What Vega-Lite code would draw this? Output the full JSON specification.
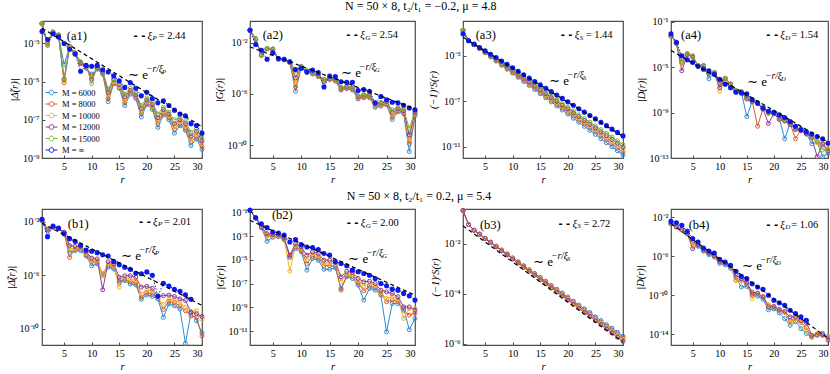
{
"$schema":"https://vega.github.io/schema/vega-lite/v6.json",
"padding":{"left":5,"top":0,"right":0,"bottom":0},
"background":"white",
"config":{
 "font":"Liberation Serif",
 "view":{"stroke":"#4d4d4d","strokeWidth":1.2},
 "axis":{"grid":false,"domain":false,"tickColor":"#4d4d4d","tickSize":-3,"tickWidth":1,"labelFont":"Liberation Serif","labelFontSize":10,"labelColor":"black","labelPadding":6,"titleFont":"Liberation Serif","titleFontSize":10.5,"titleFontWeight":"normal","titleFontStyle":"italic","titleColor":"black","titlePadding":3},
 "text":{"font":"Liberation Serif","color":"black"},
 "title":{"font":"Liberation Serif","fontSize":12,"fontWeight":"normal","color":"black","anchor":"middle"}
},
"datasets":{
"fit":[{"p":"a1","r":1,"v":6.3e-3},{"p":"a1","r":30,"v":4.4e-8},{"p":"a2","r":1,"v":4.6e-3},{"p":"a2","r":30,"v":6.8e-8},{"p":"a3","r":1,"v":4.5e-2},{"p":"a3","r":30,"v":7.9e-11},{"p":"a4","r":1,"v":3.0e-4},{"p":"a4","r":30,"v":2.5e-12},{"p":"b1","r":1,"v":7.9e-3},{"p":"b1","r":30,"v":5.6e-9},{"p":"b2","r":1,"v":2.1e-2},{"p":"b2","r":30,"v":1.07e-8},{"p":"b3","r":1,"v":5.1e-2},{"p":"b3","r":30,"v":1.17e-6},{"p":"b4","r":1,"v":2.1e-3},{"p":"b4","r":30,"v":4.0e-15}],
"notes":[
{"p":"a1","k":"lab","r":5.5,"v":2.5e-3,"t":"(a1)"},{"p":"a1","k":"fit","r":16.6,"v":2.1e-5,"t":"P"},{"p":"a1","k":"xi","r":17.6,"v":2.6e-3,"t":"P","n":"= 2.44"},
{"p":"a2","k":"lab","r":3.23,"v":3.7e-2,"t":"(a2)"},{"p":"a2","k":"fit","r":17.0,"v":4.0e-5,"t":"G"},{"p":"a2","k":"xi","r":17.9,"v":3.7e-2,"t":"G","n":"= 2.54"},
{"p":"a3","k":"lab","r":3.3,"v":6.6e-2,"t":"(a3)"},{"p":"a3","k":"fit","r":16.6,"v":6.3e-6,"t":"S"},{"p":"a3","k":"xi","r":18.7,"v":6.6e-2,"t":"S","n":"= 1.44"},
{"p":"a4","k":"lab","r":2.85,"v":6.5e-3,"t":"(a4)"},{"p":"a4","k":"fit","r":15.05,"v":5.4e-7,"t":"D"},{"p":"a4","k":"xi","r":18.6,"v":6.5e-3,"t":"D","n":"= 1.54"},
{"p":"b1","k":"lab","r":5.68,"v":7.4e-3,"t":"(b1)"},{"p":"b1","k":"fit","r":15.3,"v":2.8e-5,"t":"P"},{"p":"b1","k":"xi","r":18.6,"v":1e-2,"t":"P","n":"= 2.01"},
{"p":"b2","k":"lab","r":4.85,"v":5.6e-2,"t":"(b2)"},{"p":"b2","k":"fit","r":18.25,"v":1.1e-5,"t":"G"},{"p":"b2","k":"xi","r":18.0,"v":1.26e-2,"t":"G","n":"= 2.00"},
{"p":"b3","k":"lab","r":4.06,"v":5.7e-2,"t":"(b3)"},{"p":"b3","k":"fit","r":13.7,"v":1.9e-3,"t":"S"},{"p":"b3","k":"xi","r":18.3,"v":6.3e-2,"t":"S","n":"= 2.72"},
{"p":"b4","k":"lab","r":4.27,"v":1.6e-3,"t":"(b4)"},{"p":"b4","k":"fit","r":14.1,"v":9.8e-8,"t":"D"},{"p":"b4","k":"xi","r":18.6,"v":1.6e-3,"t":"D","n":"= 1.06"}
],
"pts":[
{"p":"a1","r":1,"m6":1.1e-2,"m8":1.1e-2,"m10":1.1e-2,"m12":1.1e-2,"m15":1.1e-2,"mi":4.3e-3},
{"p":"a1","r":2,"m6":7.9e-4,"m8":8.9e-4,"m10":8.9e-4,"m12":1e-3,"m15":1e-3,"mi":1.6e-3},
{"p":"a1","r":3,"m6":3.5e-3,"m8":3.5e-3,"m10":3.5e-3,"m12":4.0e-3,"m15":4.0e-3,"mi":3.2e-3},
{"p":"a1","r":4,"m6":2.5e-3,"m8":2.5e-3,"m10":2.5e-3,"m12":2.8e-3,"m15":2.8e-3,"mi":2.2e-3},
{"p":"a1","r":5,"m6":7.9e-5,"m8":8.9e-6,"m10":1.1e-5,"m12":1.3e-5,"m15":1.4e-5,"mi":1e-3},
{"p":"a1","r":6,"m6":6.3e-4,"m8":6.3e-4,"m10":6.3e-4,"m12":7.1e-4,"m15":7.1e-4,"mi":5.0e-4},
{"p":"a1","r":7,"m6":2.8e-4,"m8":2.8e-4,"m10":3.2e-4,"m12":3.2e-4,"m15":3.2e-4,"mi":2.8e-4},
{"p":"a1","r":8,"m6":8.9e-5,"m8":8.9e-5,"m10":1e-4,"m12":1e-4,"m15":1.1e-4,"mi":3.5e-5},
{"p":"a1","r":9,"m6":5.0e-5,"m8":5.6e-5,"m10":6.3e-5,"m12":6.3e-5,"m15":7.1e-5,"mi":7.1e-5},
{"p":"a1","r":10,"m6":2.5e-5,"m8":2.0e-5,"m10":1.6e-5,"m12":1.3e-5,"m15":7.9e-6,"mi":6.3e-5},
{"p":"a1","r":11,"m6":4.5e-5,"m8":5.0e-5,"m10":5.6e-5,"m12":5.6e-5,"m15":6.3e-5,"mi":7.1e-5},
{"p":"a1","r":12,"m6":2.5e-5,"m8":2.8e-5,"m10":3.2e-5,"m12":3.2e-5,"m15":3.5e-5,"mi":4.2e-5},
{"p":"a1","r":13,"m6":8.9e-7,"m8":1.3e-6,"m10":2.0e-6,"m12":2.8e-6,"m15":4.0e-6,"mi":3.2e-5},
{"p":"a1","r":14,"m6":7.9e-6,"m8":8.9e-6,"m10":1e-5,"m12":1.3e-5,"m15":1.4e-5,"mi":2.0e-5},
{"p":"a1","r":15,"m6":4.5e-6,"m8":5.0e-6,"m10":5.6e-6,"m12":7.1e-6,"m15":7.9e-6,"mi":1.1e-5},
{"p":"a1","r":16,"m6":5.6e-7,"m8":7.9e-7,"m10":1.1e-6,"m12":1.6e-6,"m15":2.2e-6,"mi":5.0e-6},
{"p":"a1","r":17,"m6":2.2e-6,"m8":2.8e-6,"m10":3.2e-6,"m12":3.5e-6,"m15":4.5e-6,"mi":8.9e-6},
{"p":"a1","r":18,"m6":1.3e-6,"m8":1.6e-6,"m10":1.8e-6,"m12":2.0e-6,"m15":2.5e-6,"mi":4.5e-6},
{"p":"a1","r":19,"m6":1.4e-7,"m8":2.0e-7,"m10":2.8e-7,"m12":4.0e-7,"m15":5.6e-7,"mi":1.8e-6},
{"p":"a1","r":20,"m6":6.3e-7,"m8":7.9e-7,"m10":8.9e-7,"m12":1.1e-6,"m15":1.4e-6,"mi":2.8e-6},
{"p":"a1","r":21,"m6":3.5e-7,"m8":4.5e-7,"m10":5.0e-7,"m12":6.3e-7,"m15":7.9e-7,"mi":1.3e-6},
{"p":"a1","r":22,"m6":4.0e-8,"m8":6.3e-8,"m10":8.9e-8,"m12":1.3e-7,"m15":2.0e-7,"mi":7.9e-7},
{"p":"a1","r":23,"m6":1.8e-7,"m8":2.2e-7,"m10":2.8e-7,"m12":3.5e-7,"m15":4.5e-7,"mi":1e-6},
{"p":"a1","r":24,"m6":1e-7,"m8":1.3e-7,"m10":1.6e-7,"m12":2.0e-7,"m15":2.5e-7,"mi":5.6e-7},
{"p":"a1","r":25,"m6":2.0e-8,"m8":3.2e-8,"m10":4.5e-8,"m12":6.3e-8,"m15":1e-7,"mi":3.2e-7},
{"p":"a1","r":26,"m6":5.0e-8,"m8":6.3e-8,"m10":7.9e-8,"m12":1e-7,"m15":1.3e-7,"mi":2.0e-7},
{"p":"a1","r":27,"m6":2.8e-8,"m8":3.5e-8,"m10":4.5e-8,"m12":6.3e-8,"m15":7.9e-8,"mi":1.6e-7},
{"p":"a1","r":28,"m6":4.5e-9,"m8":7.1e-9,"m10":1e-8,"m12":1.4e-8,"m15":2.2e-8,"mi":6.3e-8},
{"p":"a1","r":29,"m6":1e-8,"m8":1.3e-8,"m10":1.8e-8,"m12":2.5e-8,"m15":3.2e-8,"mi":5.0e-8},
{"p":"a1","r":30,"m6":2.8e-9,"m8":4.0e-9,"m10":5.6e-9,"m12":7.9e-9,"m15":1.1e-8,"mi":2.0e-8},
{"p":"a2","r":1,"m6":9.1e-2,"m8":9.3e-2,"m10":9.5e-2,"m12":9.8e-2,"m15":1e-1,"mi":9.1e-2},
{"p":"a2","r":2,"m6":1.8e-2,"m8":1.8e-2,"m10":1.9e-2,"m12":1.9e-2,"m15":2.0e-2,"mi":7.1e-3},
{"p":"a2","r":3,"m6":1e-3,"m8":1e-3,"m10":1.1e-3,"m12":1.1e-3,"m15":1.1e-3,"mi":2.5e-3},
{"p":"a2","r":4,"m6":3.2e-3,"m8":3.3e-3,"m10":3.4e-3,"m12":3.4e-3,"m15":3.5e-3,"mi":5.0e-4},
{"p":"a2","r":5,"m6":2.8e-3,"m8":2.9e-3,"m10":3.0e-3,"m12":3.1e-3,"m15":3.2e-3,"mi":1.6e-3},
{"p":"a2","r":6,"m6":5.0e-4,"m8":5.2e-4,"m10":5.3e-4,"m12":5.5e-4,"m15":5.6e-4,"mi":5.6e-4},
{"p":"a2","r":7,"m6":4.5e-4,"m8":4.6e-4,"m10":4.7e-4,"m12":4.9e-4,"m15":5.0e-4,"mi":5.0e-4},
{"p":"a2","r":8,"m6":2.8e-4,"m8":2.9e-4,"m10":3.0e-4,"m12":3.1e-4,"m15":3.2e-4,"mi":3.2e-4},
{"p":"a2","r":9,"m6":1.6e-6,"m8":3.5e-6,"m10":7.9e-6,"m12":1.8e-5,"m15":4.0e-5,"mi":7.9e-5},
{"p":"a2","r":10,"m6":1.1e-4,"m8":1.2e-4,"m10":1.3e-4,"m12":1.3e-4,"m15":1.4e-4,"mi":1e-4},
{"p":"a2","r":11,"m6":5.0e-5,"m8":5.3e-5,"m10":5.6e-5,"m12":5.9e-5,"m15":6.3e-5,"mi":5.0e-5},
{"p":"a2","r":12,"m6":3.5e-5,"m8":3.8e-5,"m10":4.0e-5,"m12":4.2e-5,"m15":4.5e-5,"mi":7.1e-5},
{"p":"a2","r":13,"m6":2.2e-5,"m8":2.4e-5,"m10":2.5e-5,"m12":2.7e-5,"m15":2.8e-5,"mi":4.5e-5},
{"p":"a2","r":14,"m6":8.9e-6,"m8":1e-5,"m10":1.1e-5,"m12":1.3e-5,"m15":1.4e-5,"mi":3.5e-6},
{"p":"a2","r":15,"m6":1.3e-5,"m8":1.4e-5,"m10":1.5e-5,"m12":1.6e-5,"m15":1.8e-5,"mi":2.5e-5},
{"p":"a2","r":16,"m6":1e-5,"m8":1.1e-5,"m10":1.2e-5,"m12":1.3e-5,"m15":1.4e-5,"mi":2.2e-5},
{"p":"a2","r":17,"m6":2.0e-6,"m8":2.2e-6,"m10":2.5e-6,"m12":2.8e-6,"m15":3.2e-6,"mi":8.9e-6},
{"p":"a2","r":18,"m6":2.5e-6,"m8":2.8e-6,"m10":3.2e-6,"m12":3.5e-6,"m15":4.0e-6,"mi":7.9e-6},
{"p":"a2","r":19,"m6":2.0e-6,"m8":2.2e-6,"m10":2.5e-6,"m12":2.8e-6,"m15":3.2e-6,"mi":7.9e-6},
{"p":"a2","r":20,"m6":4.0e-7,"m8":4.6e-7,"m10":5.3e-7,"m12":6.1e-7,"m15":7.1e-7,"mi":1.8e-6},
{"p":"a2","r":21,"m6":5.0e-7,"m8":5.8e-7,"m10":6.7e-7,"m12":7.7e-7,"m15":8.9e-7,"mi":2.2e-6},
{"p":"a2","r":22,"m6":5.0e-7,"m8":5.8e-7,"m10":6.7e-7,"m12":7.7e-7,"m15":8.9e-7,"mi":1.6e-6},
{"p":"a2","r":23,"m6":8.9e-8,"m8":1.1e-7,"m10":1.3e-7,"m12":1.6e-7,"m15":2.0e-7,"mi":2.0e-7},
{"p":"a2","r":24,"m6":1.1e-7,"m8":1.3e-7,"m10":1.6e-7,"m12":1.9e-7,"m15":2.2e-7,"mi":6.3e-7},
{"p":"a2","r":25,"m6":1.4e-7,"m8":1.7e-7,"m10":2.0e-7,"m12":2.4e-7,"m15":2.8e-7,"mi":3.5e-7},
{"p":"a2","r":26,"m6":1e-8,"m8":1.5e-8,"m10":2.4e-8,"m12":3.6e-8,"m15":5.6e-8,"mi":2.2e-7},
{"p":"a2","r":27,"m6":4.0e-8,"m8":4.8e-8,"m10":5.6e-8,"m12":6.7e-8,"m15":8.9e-8,"mi":2.0e-7},
{"p":"a2","r":28,"m6":2.8e-8,"m8":3.4e-8,"m10":4.0e-8,"m12":4.7e-8,"m15":6.3e-8,"mi":1.3e-7},
{"p":"a2","r":29,"m6":3.2e-11,"m8":1.3e-10,"m10":3.2e-10,"m12":6.3e-10,"m15":2.0e-9,"mi":7.9e-8},
{"p":"a2","r":30,"m6":2.0e-8,"m8":2.4e-8,"m10":2.8e-8,"m12":3.4e-8,"m15":4.5e-8,"mi":5.6e-8},
{"p":"a3","r":1,"m6":1.8e-1,"m8":1.8e-1,"m10":1.8e-1,"m12":1.8e-1,"m15":1.8e-1,"mi":9.1e-2},
{"p":"a3","r":2,"m6":2.3e-2,"m8":2.3e-2,"m10":2.3e-2,"m12":2.3e-2,"m15":2.3e-2,"mi":2.2e-2},
{"p":"a3","r":3,"m6":9.8e-3,"m8":1e-2,"m10":1.0e-2,"m12":1.0e-2,"m15":1.05e-2,"mi":1.1e-2},
{"p":"a3","r":4,"m6":4.3e-3,"m8":4.5e-3,"m10":4.7e-3,"m12":4.8e-3,"m15":5.0e-3,"mi":5.6e-3},
{"p":"a3","r":5,"m6":1.9e-3,"m8":2.0e-3,"m10":2.1e-3,"m12":2.2e-3,"m15":2.3e-3,"mi":2.8e-3},
{"p":"a3","r":6,"m6":8.1e-4,"m8":8.9e-4,"m10":9.5e-4,"m12":1.0e-3,"m15":1.1e-3,"mi":1.4e-3},
{"p":"a3","r":7,"m6":3.5e-4,"m8":4.0e-4,"m10":4.4e-4,"m12":4.7e-4,"m15":5.1e-4,"mi":7.1e-4},
{"p":"a3","r":8,"m6":1.5e-4,"m8":1.8e-4,"m10":2.0e-4,"m12":2.2e-4,"m15":2.5e-4,"mi":3.5e-4},
{"p":"a3","r":9,"m6":6.8e-5,"m8":7.9e-5,"m10":9.1e-5,"m12":1.0e-4,"m15":1.15e-4,"mi":1.8e-4},
{"p":"a3","r":10,"m6":3.0e-5,"m8":3.5e-5,"m10":4.1e-5,"m12":4.7e-5,"m15":5.4e-5,"mi":8.9e-5},
{"p":"a3","r":11,"m6":1.3e-5,"m8":1.6e-5,"m10":1.9e-5,"m12":2.1e-5,"m15":2.6e-5,"mi":4.5e-5},
{"p":"a3","r":12,"m6":5.6e-6,"m8":7.1e-6,"m10":8.5e-6,"m12":1.0e-5,"m15":1.2e-5,"mi":2.2e-5},
{"p":"a3","r":13,"m6":2.5e-6,"m8":3.2e-6,"m10":3.9e-6,"m12":4.6e-6,"m15":5.6e-6,"mi":1.1e-5},
{"p":"a3","r":14,"m6":1.1e-6,"m8":1.4e-6,"m10":1.8e-6,"m12":2.1e-6,"m15":2.7e-6,"mi":5.6e-6},
{"p":"a3","r":15,"m6":4.7e-7,"m8":6.3e-7,"m10":7.9e-7,"m12":9.8e-7,"m15":1.3e-6,"mi":2.8e-6},
{"p":"a3","r":16,"m6":2.0e-7,"m8":2.8e-7,"m10":3.6e-7,"m12":4.6e-7,"m15":5.9e-7,"mi":1.4e-6},
{"p":"a3","r":17,"m6":8.9e-8,"m8":1.3e-7,"m10":1.7e-7,"m12":2.1e-7,"m15":2.8e-7,"mi":7.1e-7},
{"p":"a3","r":18,"m6":3.9e-8,"m8":5.6e-8,"m10":7.6e-8,"m12":9.8e-8,"m15":1.3e-7,"mi":3.5e-7},
{"p":"a3","r":19,"m6":1.7e-8,"m8":2.5e-8,"m10":3.5e-8,"m12":4.5e-8,"m15":6.2e-8,"mi":1.8e-7},
{"p":"a3","r":20,"m6":7.4e-9,"m8":1.1e-8,"m10":1.5e-8,"m12":2.1e-8,"m15":2.9e-8,"mi":8.9e-8},
{"p":"a3","r":21,"m6":3.2e-9,"m8":5.0e-9,"m10":7.1e-9,"m12":9.5e-9,"m15":1.4e-8,"mi":4.5e-8},
{"p":"a3","r":22,"m6":1.4e-9,"m8":2.2e-9,"m10":3.2e-9,"m12":4.5e-9,"m15":6.5e-9,"mi":2.2e-8},
{"p":"a3","r":23,"m6":6.2e-10,"m8":1.0e-9,"m10":1.5e-9,"m12":2.0e-9,"m15":3.0e-9,"mi":1.1e-8},
{"p":"a3","r":24,"m6":2.7e-10,"m8":4.5e-10,"m10":6.8e-10,"m12":9.5e-10,"m15":1.45e-9,"mi":5.6e-9},
{"p":"a3","r":25,"m6":1.2e-10,"m8":2.0e-10,"m10":3.0e-10,"m12":4.4e-10,"m15":6.8e-10,"mi":2.8e-9},
{"p":"a3","r":26,"m6":5.1e-11,"m8":8.9e-11,"m10":1.4e-10,"m12":2.0e-10,"m15":3.2e-10,"mi":1.4e-9},
{"p":"a3","r":27,"m6":2.2e-11,"m8":4.0e-11,"m10":6.3e-11,"m12":9.3e-11,"m15":1.5e-10,"mi":7.1e-10},
{"p":"a3","r":28,"m6":9.8e-12,"m8":1.8e-11,"m10":2.9e-11,"m12":4.4e-11,"m15":7.1e-11,"mi":3.5e-10},
{"p":"a3","r":29,"m6":4.3e-12,"m8":7.9e-12,"m10":1.3e-11,"m12":2.0e-11,"m15":3.3e-11,"mi":1.8e-10},
{"p":"a3","r":30,"m6":1.9e-12,"m8":3.5e-12,"m10":5.9e-12,"m12":9.3e-12,"m15":1.5e-11,"mi":8.9e-11},
{"p":"a4","r":1,"m6":5.6e-3,"m8":5.6e-3,"m10":5.6e-3,"m12":5.6e-3,"m15":5.6e-3,"mi":9.1e-3},
{"p":"a4","r":2,"m6":1.3e-3,"m8":1.3e-3,"m10":1.3e-3,"m12":1.3e-3,"m15":1.3e-3,"mi":1.6e-3},
{"p":"a4","r":3,"m6":2.5e-5,"m8":2.5e-5,"m10":2.2e-5,"m12":5.0e-6,"m15":3.2e-5,"mi":1.05e-4},
{"p":"a4","r":4,"m6":1.4e-4,"m8":1.6e-4,"m10":1.4e-4,"m12":1.3e-4,"m15":1.6e-4,"mi":4.6e-5},
{"p":"a4","r":5,"m6":8.9e-5,"m8":1e-4,"m10":8.9e-5,"m12":7.9e-5,"m15":1e-4,"mi":2.7e-5},
{"p":"a4","r":6,"m6":1.3e-5,"m8":1.4e-5,"m10":1.3e-5,"m12":1.3e-5,"m15":1.4e-5,"mi":1.2e-5},
{"p":"a4","r":7,"m6":1.3e-5,"m8":1.4e-5,"m10":1.3e-5,"m12":1.3e-5,"m15":1.4e-5,"mi":6.8e-6},
{"p":"a4","r":8,"m6":1e-6,"m8":3.2e-6,"m10":3.2e-6,"m12":2.8e-6,"m15":3.5e-6,"mi":4.8e-6},
{"p":"a4","r":9,"m6":3.2e-6,"m8":3.5e-6,"m10":3.2e-6,"m12":3.2e-6,"m15":3.5e-6,"mi":2.4e-6},
{"p":"a4","r":10,"m6":4.0e-7,"m8":4.5e-7,"m10":7.9e-8,"m12":1.6e-7,"m15":5.0e-7,"mi":8.7e-7},
{"p":"a4","r":11,"m6":1e-6,"m8":1e-6,"m10":8.9e-7,"m12":1e-6,"m15":1.1e-6,"mi":3.2e-7},
{"p":"a4","r":12,"m6":3.2e-7,"m8":3.2e-7,"m10":2.8e-7,"m12":3.2e-7,"m15":3.5e-7,"mi":1.6e-7},
{"p":"a4","r":13,"m6":7.9e-8,"m8":8.9e-8,"m10":7.9e-8,"m12":7.1e-8,"m15":8.9e-8,"mi":6.3e-8},
{"p":"a4","r":14,"m6":6.3e-8,"m8":7.1e-8,"m10":6.3e-8,"m12":5.6e-8,"m15":7.1e-8,"mi":5.5e-8},
{"p":"a4","r":15,"m6":4.5e-10,"m8":2.0e-8,"m10":1.8e-8,"m12":1.6e-8,"m15":2.2e-8,"mi":4.5e-8},
{"p":"a4","r":16,"m6":1e-8,"m8":1.1e-8,"m10":1e-8,"m12":8.9e-9,"m15":1.1e-8,"mi":1.4e-8},
{"p":"a4","r":17,"m6":6.3e-9,"m8":6.3e-11,"m10":7.1e-9,"m12":6.3e-9,"m15":7.9e-9,"mi":7.1e-9},
{"p":"a4","r":18,"m6":2.5e-9,"m8":2.5e-9,"m10":2.2e-9,"m12":2.0e-9,"m15":2.8e-9,"mi":2.5e-9},
{"p":"a4","r":19,"m6":1e-9,"m8":8.9e-10,"m10":7.9e-10,"m12":1.1e-10,"m15":1e-9,"mi":1.3e-9},
{"p":"a4","r":20,"m6":1e-9,"m8":1e-9,"m10":8.9e-10,"m12":7.9e-10,"m15":1.1e-9,"mi":1.05e-9},
{"p":"a4","r":21,"m6":3.2e-10,"m8":3.2e-10,"m10":2.8e-10,"m12":2.5e-10,"m15":3.5e-10,"mi":6.3e-10},
{"p":"a4","r":22,"m6":5.0e-12,"m8":2.2e-10,"m10":2.0e-10,"m12":1.8e-10,"m15":2.5e-10,"mi":3.7e-10},
{"p":"a4","r":23,"m6":1.1e-10,"m8":1.1e-10,"m10":1e-10,"m12":8.9e-11,"m15":1.3e-10,"mi":1.6e-10},
{"p":"a4","r":24,"m6":4.0e-11,"m8":5.0e-12,"m10":3.5e-11,"m12":3.2e-11,"m15":4.5e-11,"mi":6.3e-11},
{"p":"a4","r":25,"m6":3.2e-11,"m8":3.2e-11,"m10":2.8e-11,"m12":2.5e-11,"m15":3.5e-11,"mi":3.2e-11},
{"p":"a4","r":26,"m6":1.4e-11,"m8":1.6e-11,"m10":1.4e-11,"m12":1.3e-11,"m15":1.8e-11,"mi":2.0e-11},
{"p":"a4","r":27,"m6":1.8e-12,"m8":7.9e-12,"m10":7.1e-12,"m12":6.3e-12,"m15":8.9e-12,"mi":1.3e-11},
{"p":"a4","r":28,"m6":2.5e-12,"m8":2.5e-12,"m10":2.2e-12,"m12":1.3e-13,"m15":2.8e-12,"mi":7.9e-12},
{"p":"a4","r":29,"m6":1.3e-13,"m8":2.0e-12,"m10":1.8e-12,"m12":1.6e-12,"m15":5.0e-13,"mi":5.0e-12},
{"p":"a4","r":30,"m6":2.5e-13,"m8":5.0e-13,"m10":5.0e-13,"m12":4.0e-13,"m15":6.3e-13,"mi":2.0e-12},
{"p":"b1","r":1,"m6":1.3e-2,"m8":1.3e-2,"m10":1.3e-2,"m12":1.3e-2,"mi":1.6e-2},
{"p":"b1","r":2,"m6":2.2e-3,"m8":2.5e-3,"m10":2.5e-3,"m12":2.8e-3,"mi":7.9e-4},
{"p":"b1","r":3,"m6":3.8e-3,"m8":4.0e-3,"m10":4.0e-3,"m12":4.2e-3,"mi":5.0e-3},
{"p":"b1","r":4,"m6":3.2e-3,"m8":3.2e-3,"m10":3.2e-3,"m12":3.2e-3,"mi":3.5e-3},
{"p":"b1","r":5,"m6":1.4e-3,"m8":1.6e-3,"m10":1.6e-3,"m12":1.7e-3,"mi":1.3e-3},
{"p":"b1","r":6,"m6":5.6e-5,"m8":2.2e-5,"m10":1e-4,"m12":1.7e-4,"mi":5.6e-4},
{"p":"b1","r":7,"m6":7.1e-5,"m8":8.9e-5,"m10":1.05e-4,"m12":1.5e-4,"mi":3.5e-4},
{"p":"b1","r":8,"m6":7.1e-5,"m8":8.9e-5,"m10":1.05e-4,"m12":1.4e-4,"mi":1.8e-4},
{"p":"b1","r":9,"m6":2.8e-5,"m8":3.5e-5,"m10":4.5e-5,"m12":6.0e-5,"mi":7.9e-5},
{"p":"b1","r":10,"m6":5.2e-6,"m8":1e-5,"m10":1.3e-5,"m12":1.9e-5,"mi":6.3e-5},
{"p":"b1","r":11,"m6":7.1e-6,"m8":1e-5,"m10":1.3e-5,"m12":1.7e-5,"mi":5.0e-5},
{"p":"b1","r":12,"m6":1.3e-6,"m8":1e-6,"m10":1.1e-6,"m12":8.3e-8,"mi":3.5e-5},
{"p":"b1","r":13,"m6":4.0e-6,"m8":5.6e-6,"m10":7.9e-6,"m12":1.05e-5,"mi":2.8e-5},
{"p":"b1","r":14,"m6":3.0e-6,"m8":4.0e-6,"m10":5.0e-6,"m12":7.1e-6,"mi":1.1e-5},
{"p":"b1","r":15,"m6":4.0e-7,"m8":2.8e-7,"m10":1.3e-7,"m12":7.1e-7,"mi":6.3e-6},
{"p":"b1","r":16,"m6":4.0e-7,"m8":5.0e-7,"m10":7.1e-7,"m12":9.3e-7,"mi":4.0e-6},
{"p":"b1","r":17,"m6":2.2e-7,"m8":3.2e-7,"m10":5.0e-7,"m12":9.3e-7,"mi":2.8e-6},
{"p":"b1","r":18,"m6":1.9e-7,"m8":2.8e-7,"m10":4.0e-7,"m12":7.1e-7,"mi":1.4e-6},
{"p":"b1","r":19,"m6":1.6e-8,"m8":2.2e-8,"m10":4.0e-8,"m12":1.3e-7,"mi":1.3e-6},
{"p":"b1","r":20,"m6":3.3e-8,"m8":5.0e-8,"m10":7.9e-8,"m12":1.5e-7,"mi":1.8e-6},
{"p":"b1","r":21,"m6":2.6e-8,"m8":4.0e-8,"m10":6.3e-8,"m12":1.05e-7,"mi":1e-6},
{"p":"b1","r":22,"m6":1.7e-8,"m8":2.0e-8,"m10":2.2e-8,"m12":2.6e-8,"mi":2.8e-8},
{"p":"b1","r":23,"m6":7.1e-10,"m8":2.8e-9,"m10":6.3e-9,"m12":3.0e-8,"mi":2.5e-7},
{"p":"b1","r":24,"m6":7.1e-9,"m8":1.1e-8,"m10":1.8e-8,"m12":3.3e-8,"mi":1.6e-7},
{"p":"b1","r":25,"m6":5.2e-9,"m8":8.9e-9,"m10":1.4e-8,"m12":2.6e-8,"mi":8.9e-8},
{"p":"b1","r":26,"m6":3.0e-9,"m8":5.0e-9,"m10":8.9e-9,"m12":1.7e-8,"mi":6.3e-8},
{"p":"b1","r":27,"m6":7.9e-12,"m8":2.2e-9,"m10":4.0e-9,"m12":1.3e-8,"mi":3.5e-8},
{"p":"b1","r":28,"m6":1.6e-9,"m8":8.9e-10,"m10":2.0e-9,"m12":1.7e-9,"mi":1.6e-8},
{"p":"b1","r":29,"m6":4.0e-10,"m8":7.1e-10,"m10":2.2e-9,"m12":1.3e-9},
{"p":"b1","r":30,"m6":5.0e-11,"m8":2.8e-11,"m10":5.0e-10,"m12":8.3e-10},
{"p":"b2","r":1,"m6":1.5e-1,"m8":1.5e-1,"m10":1.5e-1,"m12":1.5e-1,"mi":1.5e-1},
{"p":"b2","r":2,"m6":3.2e-2,"m8":3.4e-2,"m10":3.4e-2,"m12":3.5e-2,"mi":3.5e-2},
{"p":"b2","r":3,"m6":5.0e-3,"m8":5.4e-3,"m10":5.6e-3,"m12":5.9e-3,"mi":1.1e-2},
{"p":"b2","r":4,"m6":3.6e-4,"m8":1e-3,"m10":1.3e-3,"m12":1.6e-3,"mi":5.1e-3},
{"p":"b2","r":5,"m6":7.9e-4,"m8":1e-3,"m10":1.1e-3,"m12":1.4e-3,"mi":2.2e-3},
{"p":"b2","r":6,"m6":8.9e-4,"m8":1e-3,"m10":1.1e-3,"m12":1.3e-3,"mi":1.8e-3},
{"p":"b2","r":7,"m6":5.0e-4,"m8":5.6e-4,"m10":6.3e-4,"m12":6.9e-4,"mi":1.2e-3},
{"p":"b2","r":8,"m6":1.6e-5,"m8":2.0e-5,"m10":1.1e-6,"m12":2.5e-5,"mi":3.2e-4},
{"p":"b2","r":9,"m6":8.9e-5,"m8":1.3e-4,"m10":1.6e-4,"m12":2.3e-4,"mi":5.0e-4},
{"p":"b2","r":10,"m6":4.7e-5,"m8":6.3e-5,"m10":8.9e-5,"m12":1.2e-4,"mi":1.9e-4},
{"p":"b2","r":11,"m6":1.35e-6,"m8":5.0e-6,"m10":1e-5,"m12":2.5e-5,"mi":1.2e-4},
{"p":"b2","r":12,"m6":1.3e-5,"m8":2.0e-5,"m10":3.2e-5,"m12":4.7e-5,"mi":1.07e-4},
{"p":"b2","r":13,"m6":9.3e-6,"m8":1.4e-5,"m10":2.2e-5,"m12":3.4e-5,"mi":7.2e-5},
{"p":"b2","r":14,"m6":1.6e-6,"m8":3.2e-6,"m10":5.6e-6,"m12":9.3e-6,"mi":3.4e-5},
{"p":"b2","r":15,"m6":1.6e-6,"m8":3.2e-6,"m10":5.6e-6,"m12":9.3e-6,"mi":2.5e-5},
{"p":"b2","r":16,"m6":2.1e-6,"m8":3.2e-6,"m10":4.5e-6,"m12":6.8e-6,"mi":6.8e-6},
{"p":"b2","r":17,"m6":3.9e-8,"m8":2.8e-8,"m10":1.4e-7,"m12":3.7e-7,"mi":4.9e-6},
{"p":"b2","r":18,"m6":3.7e-7,"m8":5.0e-7,"m10":7.1e-7,"m12":1.1e-6,"mi":3.2e-6},
{"p":"b2","r":19,"m6":2.7e-7,"m8":4.0e-7,"m10":5.6e-7,"m12":8.5e-7,"mi":1.35e-6},
{"p":"b2","r":20,"m6":7.4e-8,"m8":1.1e-7,"m10":1.8e-7,"m12":2.7e-7,"mi":9.8e-7},
{"p":"b2","r":21,"m6":4.1e-9,"m8":2.5e-8,"m10":6.3e-8,"m12":1.4e-7,"mi":7.1e-7},
{"p":"b2","r":22,"m6":3.9e-8,"m8":6.3e-8,"m10":1e-7,"m12":1.6e-7,"mi":5.1e-7},
{"p":"b2","r":23,"m6":2.8e-8,"m8":4.5e-8,"m10":7.1e-8,"m12":1.02e-7,"mi":2.7e-7},
{"p":"b2","r":24,"m6":1.07e-8,"m8":1.4e-8,"m10":1.6e-8,"m12":2.8e-8,"mi":1.02e-7},
{"p":"b2","r":25,"m6":8.7e-12,"m8":3.0e-9,"m10":5.6e-9,"m12":2.0e-8,"mi":6.5e-8},
{"p":"b2","r":26,"m6":2.1e-9,"m8":4.0e-9,"m10":7.9e-9,"m12":1.5e-8,"mi":3.4e-8},
{"p":"b2","r":27,"m6":2.1e-9,"m8":3.2e-9,"m10":5.0e-9,"m12":7.8e-9,"mi":2.8e-8},
{"p":"b2","r":28,"m6":7.9e-10,"m8":5.8e-10,"m10":1.15e-10,"m12":1.1e-9,"mi":1.5e-8},
{"p":"b2","r":29,"m6":1.3e-11,"m8":2.2e-10,"m10":7.9e-10,"m12":1.1e-9,"mi":9.3e-9},
{"p":"b2","r":30,"m6":1.15e-10,"m8":3.2e-10,"m10":7.9e-10,"m12":5.8e-10,"mi":4.1e-9},
{"p":"b3","r":1,"m6":2.1e-1,"m8":2.1e-1,"m10":2.1e-1,"m12":2.1e-1},
{"p":"b3","r":2,"m6":5.8e-2,"m8":5.8e-2,"m10":5.8e-2,"m12":5.8e-2},
{"p":"b3","r":3,"m6":3.4e-2,"m8":3.4e-2,"m10":3.4e-2,"m12":3.4e-2},
{"p":"b3","r":4,"m6":2.4e-2,"m8":2.37e-2,"m10":2.34e-2,"m12":2.34e-2},
{"p":"b3","r":5,"m6":1.64e-2,"m8":1.62e-2,"m10":1.62e-2,"m12":1.58e-2},
{"p":"b3","r":6,"m6":1.15e-2,"m8":1.14e-2,"m10":1.12e-2,"m12":1.10e-2},
{"p":"b3","r":7,"m6":7.9e-3,"m8":7.8e-3,"m10":7.6e-3,"m12":7.4e-3},
{"p":"b3","r":8,"m6":5.6e-3,"m8":5.4e-3,"m10":5.25e-3,"m12":5.1e-3},
{"p":"b3","r":9,"m6":3.9e-3,"m8":3.8e-3,"m10":3.6e-3,"m12":3.55e-3},
{"p":"b3","r":10,"m6":2.7e-3,"m8":2.6e-3,"m10":2.5e-3,"m12":2.4e-3},
{"p":"b3","r":11,"m6":1.9e-3,"m8":1.82e-3,"m10":1.74e-3,"m12":1.66e-3},
{"p":"b3","r":12,"m6":1.32e-3,"m8":1.24e-3,"m10":1.17e-3,"m12":1.12e-3},
{"p":"b3","r":13,"m6":9.1e-4,"m8":8.7e-4,"m10":8.3e-4,"m12":7.8e-4},
{"p":"b3","r":14,"m6":6.5e-4,"m8":6.1e-4,"m10":5.75e-4,"m12":5.4e-4},
{"p":"b3","r":15,"m6":4.5e-4,"m8":4.2e-4,"m10":3.9e-4,"m12":3.6e-4},
{"p":"b3","r":16,"m6":3.16e-4,"m8":2.9e-4,"m10":2.7e-4,"m12":2.5e-4},
{"p":"b3","r":17,"m6":2.14e-4,"m8":2.0e-4,"m10":1.86e-4,"m12":1.7e-4},
{"p":"b3","r":18,"m6":1.51e-4,"m8":1.4e-4,"m10":1.29e-4,"m12":1.17e-4},
{"p":"b3","r":19,"m6":1.07e-4,"m8":9.8e-5,"m10":8.9e-5,"m12":8.1e-5},
{"p":"b3","r":20,"m6":7.4e-5,"m8":6.7e-5,"m10":6.0e-5,"m12":5.5e-5},
{"p":"b3","r":21,"m6":5.1e-5,"m8":4.7e-5,"m10":4.3e-5,"m12":3.8e-5},
{"p":"b3","r":22,"m6":3.55e-5,"m8":3.2e-5,"m10":2.9e-5,"m12":2.6e-5},
{"p":"b3","r":23,"m6":2.5e-5,"m8":2.24e-5,"m10":2.0e-5,"m12":1.78e-5},
{"p":"b3","r":24,"m6":1.78e-5,"m8":1.57e-5,"m10":1.38e-5,"m12":1.23e-5},
{"p":"b3","r":25,"m6":1.2e-5,"m8":1.07e-5,"m10":9.5e-6,"m12":8.3e-6},
{"p":"b3","r":26,"m6":8.5e-6,"m8":7.5e-6,"m10":6.6e-6,"m12":5.75e-6},
{"p":"b3","r":27,"m6":5.9e-6,"m8":5.1e-6,"m10":4.5e-6,"m12":3.9e-6},
{"p":"b3","r":28,"m6":4.2e-6,"m8":3.6e-6,"m10":3.16e-6,"m12":2.7e-6},
{"p":"b3","r":29,"m6":2.9e-6,"m8":2.5e-6,"m10":2.2e-6,"m12":1.86e-6},
{"p":"b3","r":30,"m6":2.0e-6,"m8":1.7e-6,"m10":1.48e-6,"m12":1.26e-6},
{"p":"b4","r":1,"m6":2.1e-3,"m8":2.1e-3,"m10":2.1e-3,"m12":2.1e-3,"mi":3.6e-3},
{"p":"b4","r":2,"m6":9.5e-4,"m8":1e-3,"m10":1e-3,"m12":1.05e-3,"mi":2.6e-3},
{"p":"b4","r":3,"m6":4.8e-4,"m8":5.0e-4,"m10":5.0e-4,"m12":5.25e-4,"mi":1.4e-3},
{"p":"b4","r":4,"m6":1.9e-4,"m8":2.0e-4,"m10":2.0e-4,"m12":2.1e-4,"mi":3.4e-4},
{"p":"b4","r":5,"m6":2.5e-5,"m8":2.75e-5,"m10":1.26e-5,"m12":5.75e-6,"mi":6.3e-5},
{"p":"b4","r":6,"m6":1e-5,"m8":1.26e-5,"m10":1.26e-5,"m12":1.4e-5,"mi":2.75e-5},
{"p":"b4","r":7,"m6":3.2e-6,"m8":4.0e-6,"m10":4.0e-6,"m12":4.5e-6,"mi":6.8e-6},
{"p":"b4","r":8,"m6":1.4e-6,"m8":1.8e-6,"m10":1.8e-6,"m12":2.0e-6,"mi":3.3e-6},
{"p":"b4","r":9,"m6":7.9e-7,"m8":1e-6,"m10":1e-6,"m12":1.1e-6,"mi":2.1e-6},
{"p":"b4","r":10,"m6":1.8e-7,"m8":2.5e-7,"m10":2.5e-7,"m12":2.8e-7,"mi":4.7e-7},
{"p":"b4","r":11,"m6":1.26e-7,"m8":1.6e-7,"m10":1.8e-7,"m12":2.0e-7,"mi":2.5e-7},
{"p":"b4","r":12,"m6":5.6e-8,"m8":7.9e-8,"m10":7.9e-8,"m12":8.9e-8,"mi":1.15e-7},
{"p":"b4","r":13,"m6":6.3e-9,"m8":3.5e-9,"m10":3.2e-9,"m12":1.1e-8,"mi":2.75e-8},
{"p":"b4","r":14,"m6":6.9e-10,"m8":3.2e-9,"m10":4.0e-9,"m12":5.0e-9,"mi":8.5e-9},
{"p":"b4","r":15,"m6":7.9e-10,"m8":1.4e-9,"m10":1.6e-9,"m12":1.8e-9,"mi":4.9e-9},
{"p":"b4","r":16,"m6":1e-10,"m8":1.26e-10,"m10":4.5e-11,"m12":2.1e-10,"mi":1.5e-9},
{"p":"b4","r":17,"m6":7.9e-11,"m8":1.4e-10,"m10":1.4e-10,"m12":1.6e-10,"mi":6.9e-10},
{"p":"b4","r":18,"m6":4.0e-11,"m8":6.3e-11,"m10":6.3e-11,"m12":7.1e-11,"mi":4.0e-10},
{"p":"b4","r":19,"m6":3.2e-12,"m8":1e-11,"m10":1e-11,"m12":6.3e-12,"mi":9.8e-11},
{"p":"b4","r":20,"m6":4.0e-12,"m8":6.3e-12,"m10":6.3e-12,"m12":7.1e-12,"mi":3.0e-11},
{"p":"b4","r":21,"m6":1.6e-12,"m8":2.8e-12,"m10":3.2e-12,"m12":3.5e-12,"mi":1.7e-11},
{"p":"b4","r":22,"m6":4.0e-13,"m8":1.8e-12,"m10":2.0e-12,"m12":2.2e-12,"mi":9.3e-12},
{"p":"b4","r":23,"m6":8.3e-14,"m8":2.5e-13,"m10":1.6e-13,"m12":6.0e-13,"mi":2.9e-12},
{"p":"b4","r":24,"m6":2.0e-13,"m8":4.0e-13,"m10":4.0e-13,"m12":6.3e-13,"mi":1.3e-12},
{"p":"b4","r":25,"m6":3.8e-14,"m8":1.6e-13,"m10":1.8e-13,"m12":2.5e-13,"mi":6.0e-13},
{"p":"b4","r":26,"m6":1.2e-14,"m8":5.0e-14,"m10":2.5e-14,"m12":1.6e-13,"mi":2.7e-13},
{"p":"b4","r":27,"m6":5.0e-15,"m8":5.6e-15,"m10":6.3e-15,"m12":7.9e-15},
{"p":"b4","r":28,"m6":1e-14,"m8":1.1e-14,"m10":1.1e-14,"m12":7.9e-15},
{"p":"b4","r":29,"m6":1.26e-14,"m8":7.9e-15,"m10":7.9e-15,"m12":8.9e-15},
{"p":"b4","r":30,"m6":6.3e-15,"m8":5.0e-15,"m10":5.6e-15,"m12":2.5e-15}
]
},
"spacing":3,
"resolve":{"scale":{"color":"independent"}},
"vconcat":[
{"title":{"text":"N = 50 × 8, t₂/t₁ = −0.2, μ = 4.8","offset":3},
 "spacing":48,"bounds":"flush","resolve":{"scale":{"color":"independent"}},
 "hconcat":[
{"width":160,"height":137,"data":{"name":"pts"},"transform":[{"filter":"datum.p=='a1'"}],
 "encoding":{"x":{"field":"r","type":"quantitative","scale":{"domain":[1,30],"nice":false,"zero":false},"axis":{"values":[5,10,15,20,25,30],"title":"r"}},
  "y":{"field":"v","type":"quantitative","scale":{"type":"log","domain":[1e-9,0.015],"nice":false},"axis":{"values":[1e-3,1e-5,1e-7,1e-9],"title":"|Δ̃(r)|","labelExpr":"'10' + ['⁰','⁻¹','⁻²','⁻³','⁻⁴','⁻⁵','⁻⁶','⁻⁷','⁻⁸','⁻⁹','⁻¹⁰','⁻¹¹','⁻¹²','⁻¹³','⁻¹⁴','⁻¹⁵'][round(-log(datum.value)/LN10)]"}}},
 "layer":[
  {"transform":[{"fold":["m6","m8","m10","m12","m15"],"as":["s","v"]}],"layer":[
   {"mark":{"type":"line","strokeWidth":1},"encoding":{"color":{"field":"s","type":"nominal","scale":{"domain":["m6","m8","m10","m12","m15","mi"],"range":["#2f8bd0","#e35a2a","#f2b51f","#8a3a98","#7ab23a","#0b1af0"]},
     "legend":{"orient":"bottom-left","offset":3,"title":null,"symbolType":"M-1,0L-0.4,0M0.4,0L1,0M0.4,0A0.4,0.4,0,1,1,-0.4,0A0.4,0.4,0,1,1,0.4,0","symbolSize":140,"symbolStrokeWidth":1,"labelFont":"Liberation Serif","labelFontSize":8.5,"rowPadding":0.5,"padding":0,
      "labelExpr":"datum.label == 'mi' ? 'M = ∞' : 'M = ' + replace(datum.label, 'm', '') + '000'"}}}},
   {"mark":{"type":"point","filled":false,"size":16,"strokeWidth":1,"opacity":1},"encoding":{"color":{"field":"s","type":"nominal","scale":{"domain":["m6","m8","m10","m12","m15","mi"],"range":["#2f8bd0","#e35a2a","#f2b51f","#8a3a98","#7ab23a","#0b1af0"]},
     "legend":{"orient":"bottom-left","offset":3,"title":null,"symbolType":"M-1,0L-0.4,0M0.4,0L1,0M0.4,0A0.4,0.4,0,1,1,-0.4,0A0.4,0.4,0,1,1,0.4,0","symbolSize":140,"symbolStrokeWidth":1,"labelFont":"Liberation Serif","labelFontSize":8.5,"rowPadding":0.5,"padding":0,
      "labelExpr":"datum.label == 'mi' ? 'M = ∞' : 'M = ' + replace(datum.label, 'm', '') + '000'"}}}}
  ]},
  {"transform":[{"fold":["mi"],"as":["s","v"]}],"layer":[
   {"mark":{"type":"line","strokeWidth":1,"strokeDash":[1.5,1.5],"color":"#0b1af0"}},
   {"mark":{"type":"point","filled":true,"size":26,"color":"#0b1af0","opacity":1}}
  ]},
  {"data":{"name":"fit"},"transform":[{"filter":"datum.p=='a1'"}],"mark":{"type":"line","color":"black","strokeDash":[4,3],"strokeWidth":1.2}},
  {"data":{"name":"notes"},"transform":[{"filter":"datum.p=='a1'"}],"layer":[
   {"transform":[{"filter":"datum.k=='lab'"}],"mark":{"type":"text","align":"left","baseline":"middle","fontSize":12.5},"encoding":{"text":{"field":"t"}}},
   {"transform":[{"filter":"datum.k=='fit'"}],"mark":{"type":"text","align":"left","baseline":"middle","fontSize":13,"text":"∼ e"}},
   {"transform":[{"filter":"datum.k=='fit'"}],"mark":{"type":"text","align":"left","baseline":"middle","fontSize":9.5,"fontStyle":"italic","dx":18,"dy":-6,"text":"−r/ξ"}},
   {"transform":[{"filter":"datum.k=='fit'"}],"mark":{"type":"text","align":"left","baseline":"middle","fontSize":6.5,"fontStyle":"italic","dx":34,"dy":-3},"encoding":{"text":{"field":"t"}}},
   {"transform":[{"filter":"datum.k=='xi'"}],"mark":{"type":"text","align":"left","baseline":"middle","fontSize":10,"fontWeight":"bold","font":"DejaVu Sans","text":"- -"}},
   {"transform":[{"filter":"datum.k=='xi'"}],"mark":{"type":"text","align":"left","baseline":"middle","fontSize":10.5,"fontStyle":"italic","dx":14,"text":"ξ"}},
   {"transform":[{"filter":"datum.k=='xi'"}],"mark":{"type":"text","align":"left","baseline":"middle","fontSize":7,"fontStyle":"italic","dx":19,"dy":2.5},"encoding":{"text":{"field":"t"}}},
   {"transform":[{"filter":"datum.k=='xi'"}],"mark":{"type":"text","align":"left","baseline":"middle","fontSize":10.5,"dx":25},"encoding":{"text":{"field":"n"}}}
  ]}
 ]},
{"width":165,"height":137,"data":{"name":"pts"},"transform":[{"filter":"datum.p=='a2'"}],
 "encoding":{"x":{"field":"r","type":"quantitative","scale":{"domain":[1,30],"nice":false,"zero":false},"axis":{"values":[5,10,15,20,25,30],"title":"r"}},
  "y":{"field":"v","type":"quantitative","scale":{"type":"log","domain":[1e-11,0.48],"nice":false},"axis":{"values":[1e-2,1e-6,1e-10],"title":"|G(r)|","labelExpr":"'10' + ['⁰','⁻¹','⁻²','⁻³','⁻⁴','⁻⁵','⁻⁶','⁻⁷','⁻⁸','⁻⁹','⁻¹⁰','⁻¹¹','⁻¹²','⁻¹³','⁻¹⁴','⁻¹⁵'][round(-log(datum.value)/LN10)]"}}},
 "layer":[
  {"transform":[{"fold":["m6","m8","m10","m12","m15"],"as":["s","v"]}],"layer":[
   {"mark":{"type":"line","strokeWidth":1},"encoding":{"color":{"field":"s","type":"nominal","scale":{"domain":["m6","m8","m10","m12","m15","mi"],"range":["#2f8bd0","#e35a2a","#f2b51f","#8a3a98","#7ab23a","#0b1af0"]},"legend":null}}},
   {"mark":{"type":"point","filled":false,"size":16,"strokeWidth":1,"opacity":1},"encoding":{"color":{"field":"s","type":"nominal","scale":{"domain":["m6","m8","m10","m12","m15","mi"],"range":["#2f8bd0","#e35a2a","#f2b51f","#8a3a98","#7ab23a","#0b1af0"]},"legend":null}}}
  ]},
  {"transform":[{"fold":["mi"],"as":["s","v"]}],"layer":[
   {"mark":{"type":"line","strokeWidth":1,"strokeDash":[1.5,1.5],"color":"#0b1af0"}},
   {"mark":{"type":"point","filled":true,"size":26,"color":"#0b1af0","opacity":1}}
  ]},
  {"data":{"name":"fit"},"transform":[{"filter":"datum.p=='a2'"}],"mark":{"type":"line","color":"black","strokeDash":[4,3],"strokeWidth":1.2}},
  {"data":{"name":"notes"},"transform":[{"filter":"datum.p=='a2'"}],"layer":[
   {"transform":[{"filter":"datum.k=='lab'"}],"mark":{"type":"text","align":"left","baseline":"middle","fontSize":12.5},"encoding":{"text":{"field":"t"}}},
   {"transform":[{"filter":"datum.k=='fit'"}],"mark":{"type":"text","align":"left","baseline":"middle","fontSize":13,"text":"∼ e"}},
   {"transform":[{"filter":"datum.k=='fit'"}],"mark":{"type":"text","align":"left","baseline":"middle","fontSize":9.5,"fontStyle":"italic","dx":18,"dy":-6,"text":"−r/ξ"}},
   {"transform":[{"filter":"datum.k=='fit'"}],"mark":{"type":"text","align":"left","baseline":"middle","fontSize":6.5,"fontStyle":"italic","dx":34,"dy":-3},"encoding":{"text":{"field":"t"}}},
   {"transform":[{"filter":"datum.k=='xi'"}],"mark":{"type":"text","align":"left","baseline":"middle","fontSize":10,"fontWeight":"bold","font":"DejaVu Sans","text":"- -"}},
   {"transform":[{"filter":"datum.k=='xi'"}],"mark":{"type":"text","align":"left","baseline":"middle","fontSize":10.5,"fontStyle":"italic","dx":14,"text":"ξ"}},
   {"transform":[{"filter":"datum.k=='xi'"}],"mark":{"type":"text","align":"left","baseline":"middle","fontSize":7,"fontStyle":"italic","dx":19,"dy":2.5},"encoding":{"text":{"field":"t"}}},
   {"transform":[{"filter":"datum.k=='xi'"}],"mark":{"type":"text","align":"left","baseline":"middle","fontSize":10.5,"dx":25},"encoding":{"text":{"field":"n"}}}
  ]}
 ]},
{"width":160,"height":137,"data":{"name":"pts"},"transform":[{"filter":"datum.p=='a3'"}],
 "encoding":{"x":{"field":"r","type":"quantitative","scale":{"domain":[1,30],"nice":false,"zero":false},"axis":{"values":[5,10,15,20,25,30],"title":"r"}},
  "y":{"field":"v","type":"quantitative","scale":{"type":"log","domain":[1e-12,1.2],"nice":false},"axis":{"values":[1e-3,1e-7,1e-11],"title":"(−1)ʳS(r)","labelExpr":"'10' + ['⁰','⁻¹','⁻²','⁻³','⁻⁴','⁻⁵','⁻⁶','⁻⁷','⁻⁸','⁻⁹','⁻¹⁰','⁻¹¹','⁻¹²','⁻¹³','⁻¹⁴','⁻¹⁵'][round(-log(datum.value)/LN10)]"}}},
 "layer":[
  {"transform":[{"fold":["m6","m8","m10","m12","m15"],"as":["s","v"]}],"layer":[
   {"mark":{"type":"line","strokeWidth":1},"encoding":{"color":{"field":"s","type":"nominal","scale":{"domain":["m6","m8","m10","m12","m15","mi"],"range":["#2f8bd0","#e35a2a","#f2b51f","#8a3a98","#7ab23a","#0b1af0"]},"legend":null}}},
   {"mark":{"type":"point","filled":false,"size":16,"strokeWidth":1,"opacity":1},"encoding":{"color":{"field":"s","type":"nominal","scale":{"domain":["m6","m8","m10","m12","m15","mi"],"range":["#2f8bd0","#e35a2a","#f2b51f","#8a3a98","#7ab23a","#0b1af0"]},"legend":null}}}
  ]},
  {"transform":[{"fold":["mi"],"as":["s","v"]}],"layer":[
   {"mark":{"type":"line","strokeWidth":1,"strokeDash":[1.5,1.5],"color":"#0b1af0"}},
   {"mark":{"type":"point","filled":true,"size":26,"color":"#0b1af0","opacity":1}}
  ]},
  {"data":{"name":"fit"},"transform":[{"filter":"datum.p=='a3'"}],"mark":{"type":"line","color":"black","strokeDash":[4,3],"strokeWidth":1.2}},
  {"data":{"name":"notes"},"transform":[{"filter":"datum.p=='a3'"}],"layer":[
   {"transform":[{"filter":"datum.k=='lab'"}],"mark":{"type":"text","align":"left","baseline":"middle","fontSize":12.5},"encoding":{"text":{"field":"t"}}},
   {"transform":[{"filter":"datum.k=='fit'"}],"mark":{"type":"text","align":"left","baseline":"middle","fontSize":13,"text":"∼ e"}},
   {"transform":[{"filter":"datum.k=='fit'"}],"mark":{"type":"text","align":"left","baseline":"middle","fontSize":9.5,"fontStyle":"italic","dx":18,"dy":-6,"text":"−r/ξ"}},
   {"transform":[{"filter":"datum.k=='fit'"}],"mark":{"type":"text","align":"left","baseline":"middle","fontSize":6.5,"fontStyle":"italic","dx":34,"dy":-3},"encoding":{"text":{"field":"t"}}},
   {"transform":[{"filter":"datum.k=='xi'"}],"mark":{"type":"text","align":"left","baseline":"middle","fontSize":10,"fontWeight":"bold","font":"DejaVu Sans","text":"- -"}},
   {"transform":[{"filter":"datum.k=='xi'"}],"mark":{"type":"text","align":"left","baseline":"middle","fontSize":10.5,"fontStyle":"italic","dx":14,"text":"ξ"}},
   {"transform":[{"filter":"datum.k=='xi'"}],"mark":{"type":"text","align":"left","baseline":"middle","fontSize":7,"fontStyle":"italic","dx":19,"dy":2.5},"encoding":{"text":{"field":"t"}}},
   {"transform":[{"filter":"datum.k=='xi'"}],"mark":{"type":"text","align":"left","baseline":"middle","fontSize":10.5,"dx":25},"encoding":{"text":{"field":"n"}}}
  ]}
 ]},
{"width":157,"height":137,"data":{"name":"pts"},"transform":[{"filter":"datum.p=='a4'"}],
 "encoding":{"x":{"field":"r","type":"quantitative","scale":{"domain":[1,30],"nice":false,"zero":false},"axis":{"values":[5,10,15,20,25,30],"title":"r"}},
  "y":{"field":"v","type":"quantitative","scale":{"type":"log","domain":[1e-13,0.12],"nice":false},"axis":{"values":[1e-1,1e-5,1e-9,1e-13],"title":"|D(r)|","labelExpr":"'10' + ['⁰','⁻¹','⁻²','⁻³','⁻⁴','⁻⁵','⁻⁶','⁻⁷','⁻⁸','⁻⁹','⁻¹⁰','⁻¹¹','⁻¹²','⁻¹³','⁻¹⁴','⁻¹⁵'][round(-log(datum.value)/LN10)]"}}},
 "layer":[
  {"transform":[{"fold":["m6","m8","m10","m12","m15"],"as":["s","v"]}],"layer":[
   {"mark":{"type":"line","strokeWidth":1},"encoding":{"color":{"field":"s","type":"nominal","scale":{"domain":["m6","m8","m10","m12","m15","mi"],"range":["#2f8bd0","#e35a2a","#f2b51f","#8a3a98","#7ab23a","#0b1af0"]},"legend":null}}},
   {"mark":{"type":"point","filled":false,"size":16,"strokeWidth":1,"opacity":1},"encoding":{"color":{"field":"s","type":"nominal","scale":{"domain":["m6","m8","m10","m12","m15","mi"],"range":["#2f8bd0","#e35a2a","#f2b51f","#8a3a98","#7ab23a","#0b1af0"]},"legend":null}}}
  ]},
  {"transform":[{"fold":["mi"],"as":["s","v"]}],"layer":[
   {"mark":{"type":"line","strokeWidth":1,"strokeDash":[1.5,1.5],"color":"#0b1af0"}},
   {"mark":{"type":"point","filled":true,"size":26,"color":"#0b1af0","opacity":1}}
  ]},
  {"data":{"name":"fit"},"transform":[{"filter":"datum.p=='a4'"}],"mark":{"type":"line","color":"black","strokeDash":[4,3],"strokeWidth":1.2}},
  {"data":{"name":"notes"},"transform":[{"filter":"datum.p=='a4'"}],"layer":[
   {"transform":[{"filter":"datum.k=='lab'"}],"mark":{"type":"text","align":"left","baseline":"middle","fontSize":12.5},"encoding":{"text":{"field":"t"}}},
   {"transform":[{"filter":"datum.k=='fit'"}],"mark":{"type":"text","align":"left","baseline":"middle","fontSize":13,"text":"∼ e"}},
   {"transform":[{"filter":"datum.k=='fit'"}],"mark":{"type":"text","align":"left","baseline":"middle","fontSize":9.5,"fontStyle":"italic","dx":18,"dy":-6,"text":"−r/ξ"}},
   {"transform":[{"filter":"datum.k=='fit'"}],"mark":{"type":"text","align":"left","baseline":"middle","fontSize":6.5,"fontStyle":"italic","dx":34,"dy":-3},"encoding":{"text":{"field":"t"}}},
   {"transform":[{"filter":"datum.k=='xi'"}],"mark":{"type":"text","align":"left","baseline":"middle","fontSize":10,"fontWeight":"bold","font":"DejaVu Sans","text":"- -"}},
   {"transform":[{"filter":"datum.k=='xi'"}],"mark":{"type":"text","align":"left","baseline":"middle","fontSize":10.5,"fontStyle":"italic","dx":14,"text":"ξ"}},
   {"transform":[{"filter":"datum.k=='xi'"}],"mark":{"type":"text","align":"left","baseline":"middle","fontSize":7,"fontStyle":"italic","dx":19,"dy":2.5},"encoding":{"text":{"field":"t"}}},
   {"transform":[{"filter":"datum.k=='xi'"}],"mark":{"type":"text","align":"left","baseline":"middle","fontSize":10.5,"dx":25},"encoding":{"text":{"field":"n"}}}
  ]}
 ]}
]},
{"title":{"text":"N = 50 × 8, t₂/t₁ = 0.2, μ = 5.4","offset":3},
 "spacing":48,"bounds":"flush","resolve":{"scale":{"color":"independent"}},
 "hconcat":[
{"width":160,"height":136,"data":{"name":"pts"},"transform":[{"filter":"datum.p=='b1'"}],
 "encoding":{"x":{"field":"r","type":"quantitative","scale":{"domain":[1,30],"nice":false,"zero":false},"axis":{"values":[5,10,15,20,25,30],"title":"r"}},
  "y":{"field":"v","type":"quantitative","scale":{"type":"log","domain":[6e-12,0.093],"nice":false},"axis":{"values":[1e-2,1e-6,1e-10],"title":"|Δ̃(r)|","labelExpr":"'10' + ['⁰','⁻¹','⁻²','⁻³','⁻⁴','⁻⁵','⁻⁶','⁻⁷','⁻⁸','⁻⁹','⁻¹⁰','⁻¹¹','⁻¹²','⁻¹³','⁻¹⁴','⁻¹⁵'][round(-log(datum.value)/LN10)]"}}},
 "layer":[
  {"transform":[{"fold":["m6","m8","m10","m12","m15"],"as":["s","v"]}],"layer":[
   {"mark":{"type":"line","strokeWidth":1},"encoding":{"color":{"field":"s","type":"nominal","scale":{"domain":["m6","m8","m10","m12","m15","mi"],"range":["#2f8bd0","#e35a2a","#f2b51f","#8a3a98","#7ab23a","#0b1af0"]},"legend":null}}},
   {"mark":{"type":"point","filled":false,"size":16,"strokeWidth":1,"opacity":1},"encoding":{"color":{"field":"s","type":"nominal","scale":{"domain":["m6","m8","m10","m12","m15","mi"],"range":["#2f8bd0","#e35a2a","#f2b51f","#8a3a98","#7ab23a","#0b1af0"]},"legend":null}}}
  ]},
  {"transform":[{"fold":["mi"],"as":["s","v"]}],"layer":[
   {"mark":{"type":"line","strokeWidth":1,"strokeDash":[1.5,1.5],"color":"#0b1af0"}},
   {"mark":{"type":"point","filled":true,"size":26,"color":"#0b1af0","opacity":1}}
  ]},
  {"data":{"name":"fit"},"transform":[{"filter":"datum.p=='b1'"}],"mark":{"type":"line","color":"black","strokeDash":[4,3],"strokeWidth":1.2}},
  {"data":{"name":"notes"},"transform":[{"filter":"datum.p=='b1'"}],"layer":[
   {"transform":[{"filter":"datum.k=='lab'"}],"mark":{"type":"text","align":"left","baseline":"middle","fontSize":12.5},"encoding":{"text":{"field":"t"}}},
   {"transform":[{"filter":"datum.k=='fit'"}],"mark":{"type":"text","align":"left","baseline":"middle","fontSize":13,"text":"∼ e"}},
   {"transform":[{"filter":"datum.k=='fit'"}],"mark":{"type":"text","align":"left","baseline":"middle","fontSize":9.5,"fontStyle":"italic","dx":18,"dy":-6,"text":"−r/ξ"}},
   {"transform":[{"filter":"datum.k=='fit'"}],"mark":{"type":"text","align":"left","baseline":"middle","fontSize":6.5,"fontStyle":"italic","dx":34,"dy":-3},"encoding":{"text":{"field":"t"}}},
   {"transform":[{"filter":"datum.k=='xi'"}],"mark":{"type":"text","align":"left","baseline":"middle","fontSize":10,"fontWeight":"bold","font":"DejaVu Sans","text":"- -"}},
   {"transform":[{"filter":"datum.k=='xi'"}],"mark":{"type":"text","align":"left","baseline":"middle","fontSize":10.5,"fontStyle":"italic","dx":14,"text":"ξ"}},
   {"transform":[{"filter":"datum.k=='xi'"}],"mark":{"type":"text","align":"left","baseline":"middle","fontSize":7,"fontStyle":"italic","dx":19,"dy":2.5},"encoding":{"text":{"field":"t"}}},
   {"transform":[{"filter":"datum.k=='xi'"}],"mark":{"type":"text","align":"left","baseline":"middle","fontSize":10.5,"dx":25},"encoding":{"text":{"field":"n"}}}
  ]}
 ]},
{"width":165,"height":136,"data":{"name":"pts"},"transform":[{"filter":"datum.p=='b2'"}],
 "encoding":{"x":{"field":"r","type":"quantitative","scale":{"domain":[1,30],"nice":false,"zero":false},"axis":{"values":[5,10,15,20,25,30],"title":"r"}},
  "y":{"field":"v","type":"quantitative","scale":{"type":"log","domain":[6.8e-13,0.19],"nice":false},"axis":{"values":[1e-1,1e-3,1e-5,1e-7,1e-9,1e-11],"title":"|G(r)|","labelExpr":"'10' + ['⁰','⁻¹','⁻²','⁻³','⁻⁴','⁻⁵','⁻⁶','⁻⁷','⁻⁸','⁻⁹','⁻¹⁰','⁻¹¹','⁻¹²','⁻¹³','⁻¹⁴','⁻¹⁵'][round(-log(datum.value)/LN10)]"}}},
 "layer":[
  {"transform":[{"fold":["m6","m8","m10","m12","m15"],"as":["s","v"]}],"layer":[
   {"mark":{"type":"line","strokeWidth":1},"encoding":{"color":{"field":"s","type":"nominal","scale":{"domain":["m6","m8","m10","m12","m15","mi"],"range":["#2f8bd0","#e35a2a","#f2b51f","#8a3a98","#7ab23a","#0b1af0"]},"legend":null}}},
   {"mark":{"type":"point","filled":false,"size":16,"strokeWidth":1,"opacity":1},"encoding":{"color":{"field":"s","type":"nominal","scale":{"domain":["m6","m8","m10","m12","m15","mi"],"range":["#2f8bd0","#e35a2a","#f2b51f","#8a3a98","#7ab23a","#0b1af0"]},"legend":null}}}
  ]},
  {"transform":[{"fold":["mi"],"as":["s","v"]}],"layer":[
   {"mark":{"type":"line","strokeWidth":1,"strokeDash":[1.5,1.5],"color":"#0b1af0"}},
   {"mark":{"type":"point","filled":true,"size":26,"color":"#0b1af0","opacity":1}}
  ]},
  {"data":{"name":"fit"},"transform":[{"filter":"datum.p=='b2'"}],"mark":{"type":"line","color":"black","strokeDash":[4,3],"strokeWidth":1.2}},
  {"data":{"name":"notes"},"transform":[{"filter":"datum.p=='b2'"}],"layer":[
   {"transform":[{"filter":"datum.k=='lab'"}],"mark":{"type":"text","align":"left","baseline":"middle","fontSize":12.5},"encoding":{"text":{"field":"t"}}},
   {"transform":[{"filter":"datum.k=='fit'"}],"mark":{"type":"text","align":"left","baseline":"middle","fontSize":13,"text":"∼ e"}},
   {"transform":[{"filter":"datum.k=='fit'"}],"mark":{"type":"text","align":"left","baseline":"middle","fontSize":9.5,"fontStyle":"italic","dx":18,"dy":-6,"text":"−r/ξ"}},
   {"transform":[{"filter":"datum.k=='fit'"}],"mark":{"type":"text","align":"left","baseline":"middle","fontSize":6.5,"fontStyle":"italic","dx":34,"dy":-3},"encoding":{"text":{"field":"t"}}},
   {"transform":[{"filter":"datum.k=='xi'"}],"mark":{"type":"text","align":"left","baseline":"middle","fontSize":10,"fontWeight":"bold","font":"DejaVu Sans","text":"- -"}},
   {"transform":[{"filter":"datum.k=='xi'"}],"mark":{"type":"text","align":"left","baseline":"middle","fontSize":10.5,"fontStyle":"italic","dx":14,"text":"ξ"}},
   {"transform":[{"filter":"datum.k=='xi'"}],"mark":{"type":"text","align":"left","baseline":"middle","fontSize":7,"fontStyle":"italic","dx":19,"dy":2.5},"encoding":{"text":{"field":"t"}}},
   {"transform":[{"filter":"datum.k=='xi'"}],"mark":{"type":"text","align":"left","baseline":"middle","fontSize":10.5,"dx":25},"encoding":{"text":{"field":"n"}}}
  ]}
 ]},
{"width":160,"height":136,"data":{"name":"pts"},"transform":[{"filter":"datum.p=='b3'"}],
 "encoding":{"x":{"field":"r","type":"quantitative","scale":{"domain":[1,30],"nice":false,"zero":false},"axis":{"values":[5,10,15,20,25,30],"title":"r"}},
  "y":{"field":"v","type":"quantitative","scale":{"type":"log","domain":[9e-7,0.24],"nice":false},"axis":{"values":[1e-2,1e-4,1e-6],"title":"(−1)ʳS(r)","labelExpr":"'10' + ['⁰','⁻¹','⁻²','⁻³','⁻⁴','⁻⁵','⁻⁶','⁻⁷','⁻⁸','⁻⁹','⁻¹⁰','⁻¹¹','⁻¹²','⁻¹³','⁻¹⁴','⁻¹⁵'][round(-log(datum.value)/LN10)]"}}},
 "layer":[
  {"transform":[{"fold":["m6","m8","m10","m12","m15"],"as":["s","v"]}],"layer":[
   {"mark":{"type":"line","strokeWidth":1},"encoding":{"color":{"field":"s","type":"nominal","scale":{"domain":["m6","m8","m10","m12","m15","mi"],"range":["#2f8bd0","#e35a2a","#f2b51f","#8a3a98","#7ab23a","#0b1af0"]},"legend":null}}},
   {"mark":{"type":"point","filled":false,"size":16,"strokeWidth":1,"opacity":1},"encoding":{"color":{"field":"s","type":"nominal","scale":{"domain":["m6","m8","m10","m12","m15","mi"],"range":["#2f8bd0","#e35a2a","#f2b51f","#8a3a98","#7ab23a","#0b1af0"]},"legend":null}}}
  ]},
  {"data":{"name":"fit"},"transform":[{"filter":"datum.p=='b3'"}],"mark":{"type":"line","color":"black","strokeDash":[4,3],"strokeWidth":1.2}},
  {"data":{"name":"notes"},"transform":[{"filter":"datum.p=='b3'"}],"layer":[
   {"transform":[{"filter":"datum.k=='lab'"}],"mark":{"type":"text","align":"left","baseline":"middle","fontSize":12.5},"encoding":{"text":{"field":"t"}}},
   {"transform":[{"filter":"datum.k=='fit'"}],"mark":{"type":"text","align":"left","baseline":"middle","fontSize":13,"text":"∼ e"}},
   {"transform":[{"filter":"datum.k=='fit'"}],"mark":{"type":"text","align":"left","baseline":"middle","fontSize":9.5,"fontStyle":"italic","dx":18,"dy":-6,"text":"−r/ξ"}},
   {"transform":[{"filter":"datum.k=='fit'"}],"mark":{"type":"text","align":"left","baseline":"middle","fontSize":6.5,"fontStyle":"italic","dx":34,"dy":-3},"encoding":{"text":{"field":"t"}}},
   {"transform":[{"filter":"datum.k=='xi'"}],"mark":{"type":"text","align":"left","baseline":"middle","fontSize":10,"fontWeight":"bold","font":"DejaVu Sans","text":"- -"}},
   {"transform":[{"filter":"datum.k=='xi'"}],"mark":{"type":"text","align":"left","baseline":"middle","fontSize":10.5,"fontStyle":"italic","dx":14,"text":"ξ"}},
   {"transform":[{"filter":"datum.k=='xi'"}],"mark":{"type":"text","align":"left","baseline":"middle","fontSize":7,"fontStyle":"italic","dx":19,"dy":2.5},"encoding":{"text":{"field":"t"}}},
   {"transform":[{"filter":"datum.k=='xi'"}],"mark":{"type":"text","align":"left","baseline":"middle","fontSize":10.5,"dx":25},"encoding":{"text":{"field":"n"}}}
  ]}
 ]},
{"width":157,"height":136,"data":{"name":"pts"},"transform":[{"filter":"datum.p=='b4'"}],
 "encoding":{"x":{"field":"r","type":"quantitative","scale":{"domain":[1,30],"nice":false,"zero":false},"axis":{"values":[5,10,15,20,25,30],"title":"r"}},
  "y":{"field":"v","type":"quantitative","scale":{"type":"log","domain":[8e-16,0.066],"nice":false},"axis":{"values":[1e-2,1e-6,1e-10,1e-14],"title":"|D(r)|","labelExpr":"'10' + ['⁰','⁻¹','⁻²','⁻³','⁻⁴','⁻⁵','⁻⁶','⁻⁷','⁻⁸','⁻⁹','⁻¹⁰','⁻¹¹','⁻¹²','⁻¹³','⁻¹⁴','⁻¹⁵'][round(-log(datum.value)/LN10)]"}}},
 "layer":[
  {"transform":[{"fold":["m6","m8","m10","m12","m15"],"as":["s","v"]}],"layer":[
   {"mark":{"type":"line","strokeWidth":1},"encoding":{"color":{"field":"s","type":"nominal","scale":{"domain":["m6","m8","m10","m12","m15","mi"],"range":["#2f8bd0","#e35a2a","#f2b51f","#8a3a98","#7ab23a","#0b1af0"]},"legend":null}}},
   {"mark":{"type":"point","filled":false,"size":16,"strokeWidth":1,"opacity":1},"encoding":{"color":{"field":"s","type":"nominal","scale":{"domain":["m6","m8","m10","m12","m15","mi"],"range":["#2f8bd0","#e35a2a","#f2b51f","#8a3a98","#7ab23a","#0b1af0"]},"legend":null}}}
  ]},
  {"transform":[{"fold":["mi"],"as":["s","v"]}],"layer":[
   {"mark":{"type":"line","strokeWidth":1,"strokeDash":[1.5,1.5],"color":"#0b1af0"}},
   {"mark":{"type":"point","filled":true,"size":26,"color":"#0b1af0","opacity":1}}
  ]},
  {"data":{"name":"fit"},"transform":[{"filter":"datum.p=='b4'"}],"mark":{"type":"line","color":"black","strokeDash":[4,3],"strokeWidth":1.2}},
  {"data":{"name":"notes"},"transform":[{"filter":"datum.p=='b4'"}],"layer":[
   {"transform":[{"filter":"datum.k=='lab'"}],"mark":{"type":"text","align":"left","baseline":"middle","fontSize":12.5},"encoding":{"text":{"field":"t"}}},
   {"transform":[{"filter":"datum.k=='fit'"}],"mark":{"type":"text","align":"left","baseline":"middle","fontSize":13,"text":"∼ e"}},
   {"transform":[{"filter":"datum.k=='fit'"}],"mark":{"type":"text","align":"left","baseline":"middle","fontSize":9.5,"fontStyle":"italic","dx":18,"dy":-6,"text":"−r/ξ"}},
   {"transform":[{"filter":"datum.k=='fit'"}],"mark":{"type":"text","align":"left","baseline":"middle","fontSize":6.5,"fontStyle":"italic","dx":34,"dy":-3},"encoding":{"text":{"field":"t"}}},
   {"transform":[{"filter":"datum.k=='xi'"}],"mark":{"type":"text","align":"left","baseline":"middle","fontSize":10,"fontWeight":"bold","font":"DejaVu Sans","text":"- -"}},
   {"transform":[{"filter":"datum.k=='xi'"}],"mark":{"type":"text","align":"left","baseline":"middle","fontSize":10.5,"fontStyle":"italic","dx":14,"text":"ξ"}},
   {"transform":[{"filter":"datum.k=='xi'"}],"mark":{"type":"text","align":"left","baseline":"middle","fontSize":7,"fontStyle":"italic","dx":19,"dy":2.5},"encoding":{"text":{"field":"t"}}},
   {"transform":[{"filter":"datum.k=='xi'"}],"mark":{"type":"text","align":"left","baseline":"middle","fontSize":10.5,"dx":25},"encoding":{"text":{"field":"n"}}}
  ]}
 ]}
]}
]
}
